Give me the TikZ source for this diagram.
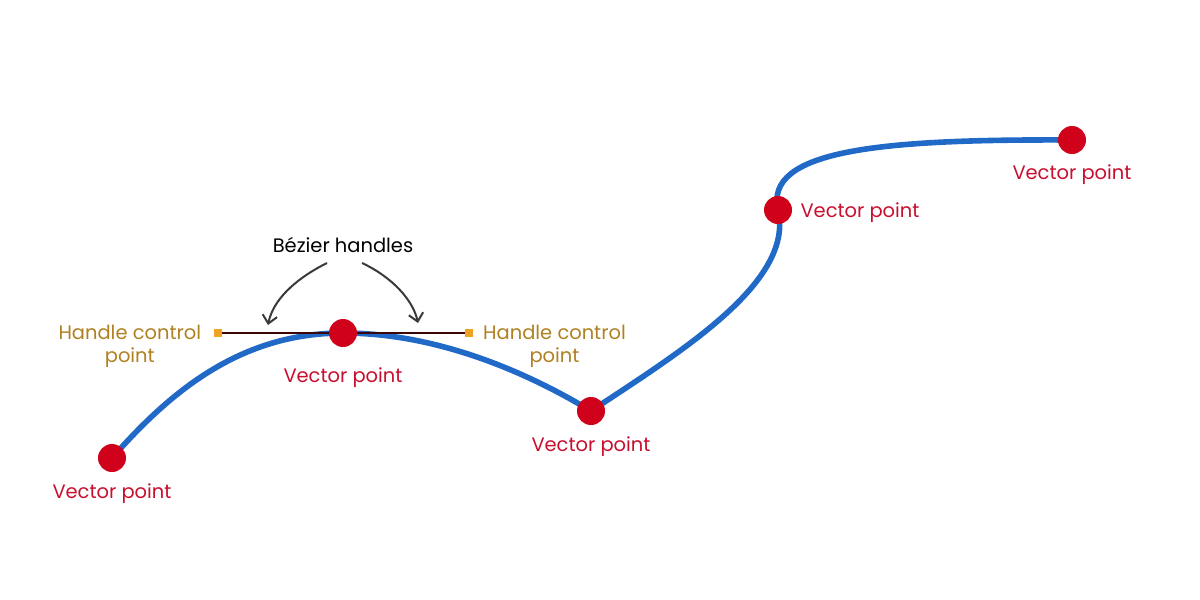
\documentclass[tikz,border=0pt]{standalone}
\usepackage{fontspec}
\setmainfont{Poppins}
\usepackage{tikz}
\usetikzlibrary{positioning,arrows.meta}
\definecolor{vecred}{HTML}{D0021B}
\definecolor{vectext}{HTML}{C8102E}
\definecolor{pathblue}{HTML}{2169C6}
\definecolor{handlegold}{HTML}{B08122}
\definecolor{handlesq}{HTML}{F0A323}
\definecolor{handleline}{HTML}{3A0606}
\definecolor{arrowgray}{HTML}{3A3A3A}

\begin{document}
\begin{tikzpicture}[x=0.75pt,y=0.75pt,yscale=-1,xscale=1,
    vecpt/.style={circle,fill=vecred,inner sep=0pt,minimum size=21pt},
    veclabel/.style={text=vectext,font=\fontsize{14.6}{17.5}\selectfont,inner sep=0pt},
    hdlpt/.style={rectangle,fill=handlesq,inner sep=0pt,minimum size=6.5pt},
    hdllabel/.style={text=handlegold,font=\fontsize{14.6}{17.5}\selectfont,inner sep=0pt,align=center},
    curvearrow/.style={draw=arrowgray,line width=1.5pt,-{Straight Barb[length=6pt,width=11pt,line width=1.5pt]}}]
        \fill[white] (0,0) rectangle (1200,600);
        \useasboundingbox (0,0) rectangle (1200,600);

        % vector points and handles
        \coordinate (p1) at (112,458);
        \coordinate (p2) at (343,333);
        \coordinate (p3) at (591,411);
        \coordinate (p4) at (778,210);
        \coordinate (p5) at (1072,140);
        \coordinate (hl) at (218,333);
        \coordinate (hr) at (469,333);

        % the path
        \draw[pathblue,line width=4.2pt,line cap=round]
            (p1) .. controls (170,392) and (240,333) .. (p2)
                 .. controls (446,333) and (540,380) .. (p3)
                 .. controls (680,352) and (795,282) .. (p4)
                 .. controls (764,150) and (880,139) .. (p5);

        \draw[handleline,line width=1.6pt] (hl) -- (hr);
        \node[hdlpt] (hdlL) at (hl) {};
        \node[hdlpt] (hdlR) at (hr) {};

        \node[vecpt] (v1) at (p1) {};
        \node[vecpt] (v2) at (p2) {};
        \node[vecpt] (v3) at (p3) {};
        \node[vecpt] (v4) at (p4) {};
        \node[vecpt] (v5) at (p5) {};

        % labels
        \node[veclabel,below=8pt of v1] (l1) {Vector point};
        \node[veclabel,below=15pt of v2] (l2) {Vector point};
        \node[veclabel,below=8pt of v3] (l3) {Vector point};
        \node[veclabel,right=6pt of v4,yshift=-2pt] (l4) {Vector point};
        \node[veclabel,below=7.5pt of v5] (l5) {Vector point};
        \node[hdllabel,left=9pt of hdlL,yshift=-10pt] (tL) {Handle control\\point};
        \node[hdllabel,right=7pt of hdlR,yshift=-10pt] (tR) {Handle control\\point};

        \node[font=\fontsize{14.6}{17.5}\selectfont,inner sep=0pt] (bez) at (343,245) {Bézier handles};
        \coordinate (aL0) at (327,263);
        \coordinate (aL1) at (268,325);
        \coordinate (aR0) at (362,263);
        \coordinate (aR1) at (418,323);
        \draw[curvearrow] (aL0) .. controls (295,279) and (273,300) .. (aL1);
        \draw[curvearrow] (aR0) .. controls (392,277) and (413,300) .. (aR1);
    \end{tikzpicture}
\end{document}
